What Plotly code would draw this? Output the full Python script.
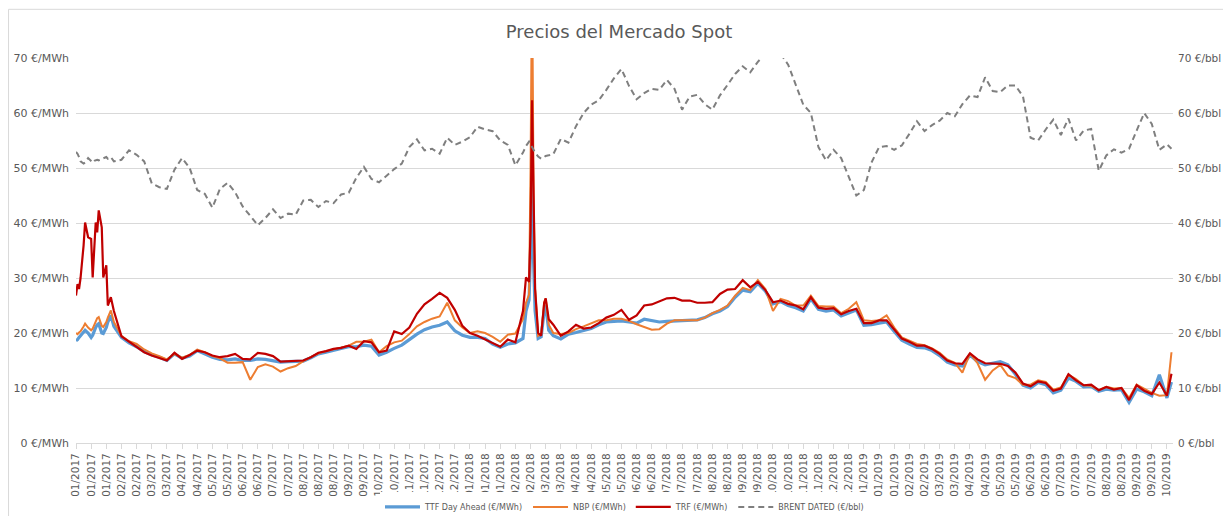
import plotly.graph_objects as go

# ---- categories (business-day index; a tick label every 10 days) ----
DAYS = ([0, 1, 2, 3, 5, 6, 8, 10, 11, 12, 13, 14, 15, 17, 18, 20, 21, 23, 25]
        + list(range(30, 291, 5))
        + [295, 297, 299, 300, 301, 302, 303, 305, 307, 309, 310, 312, 315]
        + list(range(320, 721, 5))
        + [723])

TICK_LABELS = [
    "01/2017", "01/2017", "01/2017", "02/2017", "02/2017", "03/2017", "03/2017", "04/2017", "04/2017",
    "05/2017", "05/2017", "06/2017", "06/2017", "07/2017", "07/2017", "08/2017", "08/2017", "08/2017",
    "09/2017", "09/2017", "10/2017", "10/2017", "11/2017", "11/2017", "12/2017", "12/2017",
    "01/2018", "01/2018", "01/2018", "02/2018", "02/2018", "03/2018", "03/2018", "04/2018", "04/2018",
    "05/2018", "05/2018", "06/2018", "06/2018", "07/2018", "07/2018", "07/2018", "08/2018", "08/2018",
    "09/2018", "09/2018", "10/2018", "10/2018", "11/2018", "11/2018", "12/2018", "12/2018",
    "01/2019", "01/2019", "01/2019", "02/2019", "02/2019", "03/2019", "03/2019", "04/2019", "04/2019",
    "05/2019", "05/2019", "06/2019", "06/2019", "07/2019", "07/2019", "07/2019", "08/2019", "08/2019",
    "09/2019", "09/2019", "10/2019",
]
TICK_DAYS = [10 * i for i in range(len(TICK_LABELS))]

# ---- series values ----
TRF = [
    26.8, 28.9, 28.0, 30.0, 35.9, 40.1, 37.4, 37.1, 30.1, 36.0, 40.1, 38.3, 42.3, 39.2, 30.1, 32.3, 25.0, 26.5, 24.0,
    19.4, 18.4, 17.4, 16.5, 15.9, 15.5, 15.0, 16.4, 15.3, 16.0,
    16.8, 16.5, 15.9, 15.6, 15.8, 16.2, 15.3, 15.2, 16.4, 16.2,
    15.8, 14.8, 14.9, 15.0, 15.0, 15.6, 16.4, 16.7, 17.1, 17.3,
    17.7, 17.1, 18.5, 18.3, 16.5, 16.8, 20.3, 19.8, 21.0, 23.5,
    25.2, 26.2, 27.3, 26.4, 24.2, 21.3, 20.0, 19.5, 18.8, 18.1,
    17.5, 18.8, 18.3,
    24.0, 30.1, 29.3, 38.6, 62.3, 40.0, 28.0, 20.0, 19.5, 25.5, 26.3, 22.5, 21.5,
    19.5, 20.3, 21.5, 20.8, 21.0, 21.8, 22.8, 23.3, 24.2, 22.4,
    23.2, 25.0, 25.2, 25.8, 26.3, 26.4, 25.9, 25.9, 25.5, 25.5,
    25.6, 27.1, 27.9, 28.0, 29.6, 28.3, 29.3, 27.8, 25.6, 25.9,
    25.3, 25.0, 24.3, 26.5, 24.6, 24.4, 24.5, 23.4, 24.0, 24.4,
    21.8, 21.8, 22.3, 22.3, 20.6, 19.0, 18.4, 17.7, 17.7, 17.1,
    16.2, 15.0, 14.5, 14.4, 16.3, 15.2, 14.5, 14.4, 14.4, 14.0,
    12.8, 10.8, 10.3, 11.2, 10.9, 9.5, 9.9, 12.5, 11.4, 10.5,
    10.6, 9.6, 10.2, 9.7, 10.0, 7.8, 10.5, 9.5, 8.9, 11.0,
    8.6,
    12.6,
]

NBP = [
    20.0, 19.8, 20.1, 20.3, 21.2, 21.7, 21.0, 20.5, 20.8, 21.5, 22.3, 22.7, 22.9, 21.3, 21.1, 22.0, 22.8, 24.1, 22.0,
    19.5, 18.5, 18.0, 17.0, 16.3, 15.8, 15.2, 16.2, 15.5, 16.0,
    17.0, 16.5, 15.8, 15.4, 14.6, 14.6, 14.7, 11.5, 13.8, 14.3,
    13.9, 13.0, 13.6, 14.0, 14.9, 15.6, 16.3, 16.7, 17.0, 17.4,
    17.7, 18.4, 18.4, 18.8, 16.5, 17.6, 18.3, 18.6, 19.8, 21.2,
    22.0, 22.6, 23.0, 25.5, 22.3, 21.0, 20.0, 20.3, 20.0, 19.3,
    18.4, 19.7, 19.9,
    22.5, 25.5, 27.0, 50.0, 85.0, 45.0, 28.0, 19.5, 19.8, 25.5, 26.3, 21.5, 20.0,
    19.8, 20.0, 20.7, 21.2, 21.8, 22.3, 22.3, 22.6, 22.6, 22.2,
    21.6, 21.1, 20.6, 20.7, 21.7, 22.3, 22.3, 22.3, 22.3, 22.8,
    23.6, 24.2, 25.0, 26.8, 28.2, 27.8, 29.6, 28.0, 24.0, 26.2,
    25.8, 25.0, 25.0, 26.8, 24.9, 24.8, 24.8, 23.6, 24.4, 25.6,
    22.3, 22.2, 22.3, 23.2, 21.0, 19.2, 18.6, 18.0, 17.8, 17.2,
    16.4, 15.2, 14.6, 12.8, 16.3, 14.5, 11.5, 13.2, 14.2, 12.3,
    11.8, 10.6, 10.6, 11.4, 11.1, 9.7, 10.1, 12.4, 11.6, 10.5,
    10.4, 9.6, 10.2, 9.9, 10.0, 8.2, 10.6, 9.8, 9.1, 8.6,
    8.7,
    16.5,
]

TTF = [
    18.6, 18.8, 19.2, 19.5, 20.0, 20.5, 20.0, 19.2, 19.6, 20.5, 21.0, 21.5, 21.7, 20.0, 19.9, 21.0, 22.0, 23.2, 21.2,
    19.2, 18.2, 17.5, 16.6, 16.0, 15.6, 15.0, 16.2, 15.4, 15.8,
    16.8, 16.2, 15.6, 15.2, 15.1, 15.3, 15.0, 15.0, 15.3, 15.2,
    15.0, 14.7, 14.8, 14.9, 14.9, 15.5, 16.2, 16.5, 16.9, 17.2,
    17.5, 17.5, 17.8, 17.6, 16.0, 16.5, 17.2, 17.8, 18.8, 19.8,
    20.6, 21.1, 21.4, 22.0, 20.4, 19.6, 19.2, 19.2, 19.0, 18.0,
    17.4, 18.0, 18.2,
    19.0, 24.0, 26.0, 35.0, 48.0, 33.0, 24.0, 19.0, 19.3, 24.0, 25.0, 20.5, 19.5,
    18.9, 19.8, 20.1, 20.5, 20.8, 21.5, 22.0, 22.1, 22.2, 22.0,
    21.8, 22.5, 22.3, 22.0, 22.1, 22.2, 22.3, 22.3, 22.4, 22.8,
    23.5, 24.0, 24.8, 26.5, 27.8, 27.5, 29.0, 27.6, 25.3, 25.7,
    25.0, 24.6, 24.0, 26.2, 24.3, 24.0, 24.2, 23.1, 23.7, 24.2,
    21.4, 21.5, 21.8, 22.0, 20.3, 18.7, 18.0, 17.4, 17.3, 16.8,
    15.9, 14.7, 14.2, 14.0, 16.0, 14.8, 14.2, 14.5, 14.8, 14.2,
    12.5, 10.5, 10.0, 11.0, 10.6, 9.1, 9.6, 11.8, 11.2, 10.2,
    10.3, 9.4, 9.8, 9.6, 9.7, 7.4, 9.8, 9.3, 8.6, 12.4,
    8.2,
    11.1,
]

BRENT = [
    52.9, 52.6, 52.0, 51.2, 50.8, 51.0, 51.8, 51.2, 51.0, 51.3, 51.4, 51.5, 51.4, 51.6, 51.8, 52.0, 51.7, 52.0, 51.2,
    51.5, 53.2, 52.4, 51.2, 47.2, 46.5, 46.2, 49.7, 51.8, 50.0,
    46.0, 45.3, 42.8, 46.2, 47.3, 45.6, 43.0, 41.3, 39.6, 40.9,
    42.5, 40.9, 41.7, 41.5, 44.1, 44.2, 42.9, 44.0, 43.6, 45.2,
    45.5, 48.2, 50.2, 48.0, 47.4, 48.6, 49.8, 50.8, 53.8, 55.2,
    53.2, 53.5, 52.6, 55.5, 54.2, 54.8, 55.6, 57.5, 57.0, 56.7,
    55.0, 54.2, 50.5,
    52.8, 54.0, 54.8, 54.3, 53.7, 53.2, 52.8, 52.1, 51.7, 52.0, 52.2, 52.3, 52.5,
    55.3, 54.6, 57.6, 60.0, 61.5, 62.3, 64.2, 66.3, 68.0, 64.9,
    62.5, 63.6, 64.4, 64.2, 66.0, 64.4, 60.6, 63.0, 63.3, 61.6,
    60.6, 63.2, 65.1, 67.1, 68.5, 67.4, 69.3, 70.8, 70.6, 70.8,
    68.8, 65.0, 61.5, 60.0, 53.8, 51.4, 53.3, 51.8, 48.5, 45.0,
    46.0, 51.0, 53.8, 54.0, 53.3, 54.1, 56.2, 58.5, 56.7, 57.8,
    58.6, 60.0, 59.4, 61.6, 63.2, 62.9, 66.5, 64.0, 63.8, 65.0,
    65.0, 63.0, 55.5, 55.0, 57.0, 58.8, 56.0, 59.0, 55.0, 56.8,
    57.1, 49.5, 52.3, 53.4, 52.8, 53.5, 56.8, 60.0, 58.0, 53.3,
    54.3,
    53.5,
]

for s in (TRF, NBP, TTF, BRENT):
    assert len(s) == len(DAYS), (len(s), len(DAYS))

FONT = "DejaVu Sans"
TXT = "#595959"
GRID = "#d9d9d9"

fig = go.Figure()
fig.add_trace(go.Scatter(x=DAYS, y=TTF, mode="lines", name="TTF Day Ahead (€/MWh)",
                         line=dict(color="#5B9BD5", width=3.2)))
fig.add_trace(go.Scatter(x=DAYS, y=NBP, mode="lines", name="NBP (€/MWh)",
                         line=dict(color="#ED7D31", width=2)))
fig.add_trace(go.Scatter(x=DAYS, y=TRF, mode="lines", name="TRF (€/MWh)",
                         line=dict(color="#C00000", width=2.2)))
fig.add_trace(go.Scatter(x=DAYS, y=BRENT, mode="lines", name="BRENT DATED (€/bbl)", yaxis="y2",
                         line=dict(color="#7F7F7F", width=2, dash="6px,4px")))

# the page adds an 8px body margin, so the figure is 8px smaller than the window
fig.update_layout(
    width=1223, height=508,
    margin=dict(l=68, r=58, t=50, b=73, autoexpand=False),
    paper_bgcolor="white", plot_bgcolor="white",
    font=dict(family=FONT, color=TXT),
    title=dict(text="Precios del Mercado Spot", x=0.4996, xanchor="center", y=0.9528, yanchor="middle",
               font=dict(family=FONT, size=18, color=TXT)),
    showlegend=True,
    legend=dict(orientation="h", x=0.5, xanchor="center", y=-0.166, yanchor="middle",
                font=dict(family=FONT, size=8, color=TXT), itemwidth=35, traceorder="normal"),
    xaxis=dict(range=[0, 724], tickmode="array", tickvals=TICK_DAYS, ticktext=TICK_LABELS,
               tickangle=-90, tickfont=dict(family=FONT, size=10.5, color=TXT), automargin=False,
               showgrid=False, zeroline=False, showline=True, linecolor=GRID, linewidth=1,
               ticks="outside", ticklen=5, tickcolor=GRID),
    yaxis=dict(range=[0, 70], dtick=10, ticksuffix=" €/MWh", showgrid=True, gridcolor=GRID, gridwidth=1,
               zeroline=False, tickfont=dict(family=FONT, size=11, color=TXT), ticklabelstandoff=6,
               automargin=False),
    yaxis2=dict(range=[0, 70], dtick=10, ticksuffix=" €/bbl", overlaying="y", side="right",
                showgrid=False, zeroline=False, tickfont=dict(family=FONT, size=10.5, color=TXT),
                ticklabelstandoff=4, automargin=False),
    shapes=[
        dict(type="line", xref="paper", yref="paper", x0=-0.0615, x1=-0.0615, y0=1.1265, y1=-0.2,
             line=dict(color=GRID, width=1)),
        dict(type="line", xref="paper", yref="paper", x0=-0.0615, x1=1.06, y0=1.1265, y1=1.1265,
             line=dict(color=GRID, width=1)),
    ],
)

fig.write_html("out.html")
